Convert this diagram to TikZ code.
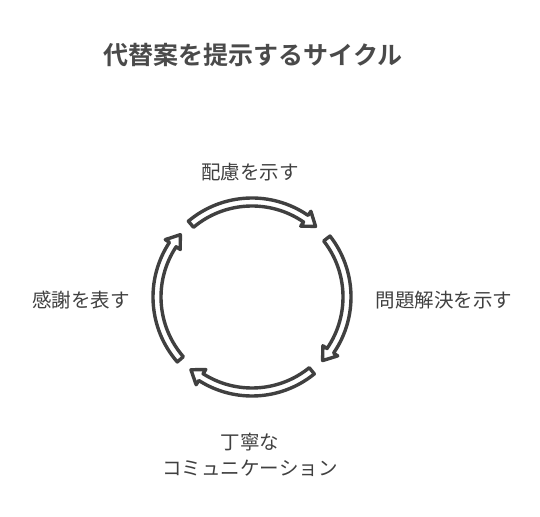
\documentclass[tikz,border=0pt]{standalone}
\usepackage{fontspec}
\setmainfont{Noto Sans CJK JP}[BoldFont={Noto Sans CJK JP Bold}]
\definecolor{ink}{HTML}{404040}
\definecolor{titleink}{HTML}{4A4A4A}
\usetikzlibrary{calc}
\tikzset{
  lbl/.style={text=ink, font=\fontsize{19.5}{26}\selectfont, align=center, inner sep=0pt},
  ttl/.style={text=titleink, font=\fontsize{25}{30}\selectfont\bfseries, inner sep=0pt},
  cyc/.style={draw=ink, fill=white, line width=3.4pt, line join=round},
}
\newcommand{\cycarrow}[2]{%
  % #1 start angle, #2 end (tip) angle, clockwise
  \pgfmathsetmacro{\hb}{#2+7.5}
  \draw[cyc] ($(c)+(#1:99)$) arc[start angle=#1, end angle=\hb, radius=99]
    -- ($(c)+(\hb:104)$) -- ($(c)+(#2:95)$) -- ($(c)+(\hb:86)$)
    -- ($(c)+(\hb:91)$) arc[start angle=\hb, end angle=#1, radius=91] -- cycle;
}
\begin{document}
\begin{tikzpicture}[x=1pt,y=1pt]
\useasboundingbox (0,0) rectangle (540,516);
\coordinate (c) at (252,219);
\node[ttl] (title) at (253,461) {代替案を提示するサイクル};
\node[lbl] (top) at (250,344) {配慮を示す};
\node[lbl] (left) at (81,216) {感謝を表す};
\node[lbl] (right) at (444,216) {問題解決を示す};
\node[lbl] (bottom) at (250,61) {丁寧な\\コミュニケーション};
\cycarrow{130}{48}
\cycarrow{38}{-42}
\cycarrow{-51}{-130}
\cycarrow{221}{139}
\end{tikzpicture}
\end{document}
